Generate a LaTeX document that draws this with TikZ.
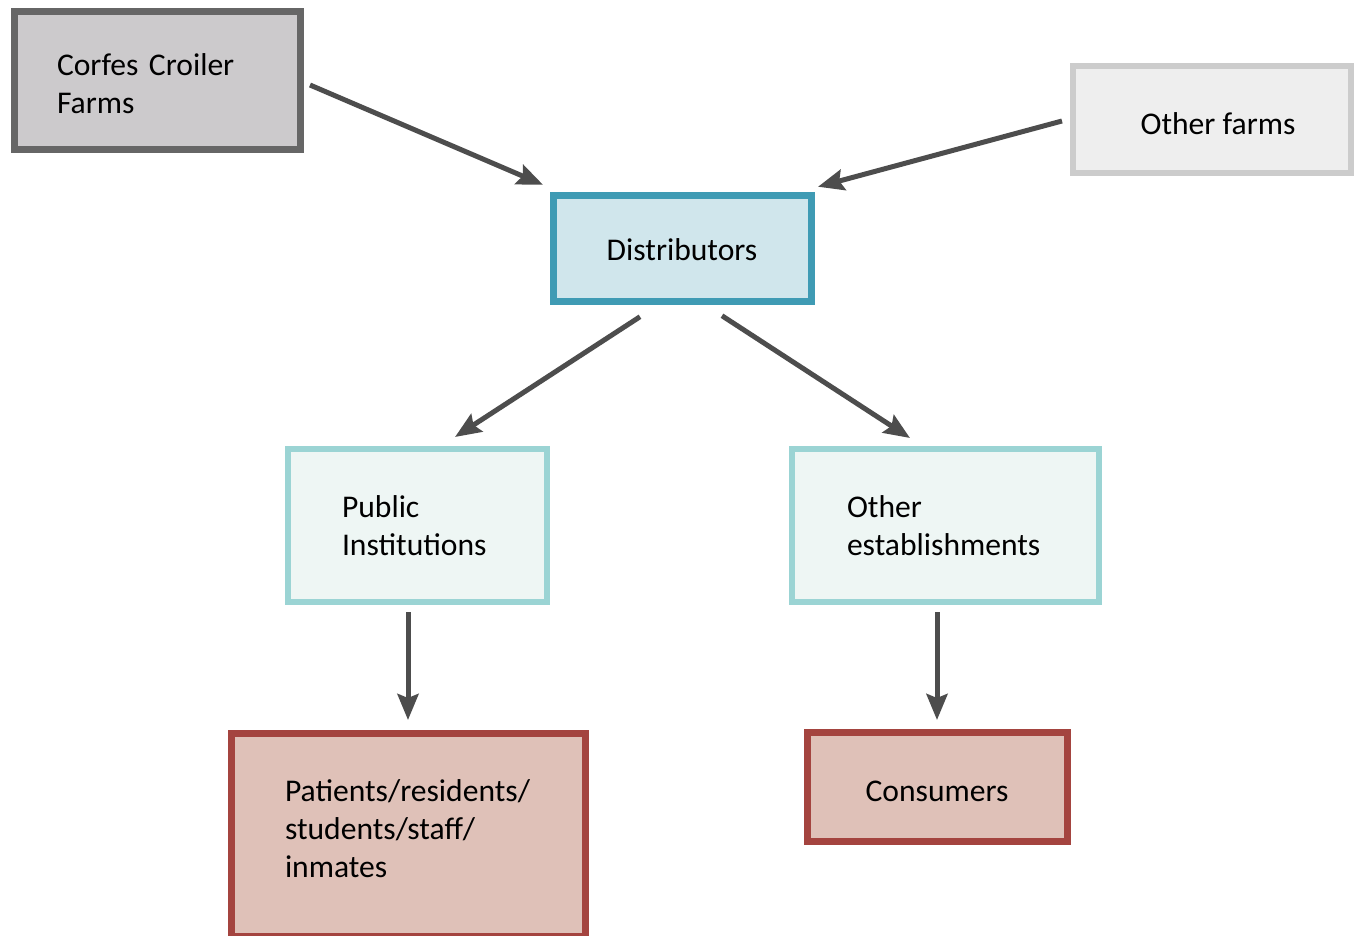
\documentclass[tikz,border=0pt]{standalone}
\usepackage{fontspec}
\setmainfont{Carlito}
\usetikzlibrary{arrows.meta,calc}
\definecolor{arrowgray}{HTML}{4D4D4D}
\definecolor{farmfill}{HTML}{CCCACC}
\definecolor{farmline}{HTML}{666666}
\definecolor{ofill}{HTML}{EEEEEE}
\definecolor{oline}{HTML}{CCCCCC}
\definecolor{dfill}{HTML}{D0E6EC}
\definecolor{dline}{HTML}{3F9BB4}
\definecolor{pfill}{HTML}{EEF6F4}
\definecolor{pline}{HTML}{9BD4D4}
\definecolor{cfill}{HTML}{DFC1B8}
\definecolor{cline}{HTML}{A4443F}
\tikzset{
  box/.style={draw, rectangle, outer sep=0pt, inner sep=0pt, line width=7pt,
    font=\fontsize{31.6}{38}\selectfont, text=black},
  flow/.style={draw=arrowgray, line width=5pt,
    -{Stealth[length=26pt,width=21pt,inset=4pt]}},
}
\begin{document}
\begin{tikzpicture}[x=1pt,y=-1pt]
\useasboundingbox (0,0) rectangle (1355,936);
\node[box, draw=farmline, fill=farmfill, minimum width=286pt, minimum height=138pt,
  text width=200pt, align=left] (corfes) at (157,81) {\rule{0pt}{28pt}Corfes Croiler\\Farms};
\node[box, draw=oline, fill=ofill, line width=6pt, minimum width=278pt, minimum height=107pt,
  text height=30pt, text depth=0pt]
  (otherfarms) at (1212,119.5) {\hspace*{12pt}Other farms};
\node[box, draw=dline, fill=dfill, minimum width=258pt, minimum height=106.5pt,
  text height=24pt, text depth=0pt]
  (dist) at (682,248.5) {Distributors};
\node[box, draw=pline, fill=pfill, line width=6pt, minimum width=259pt, minimum height=153pt,
  text width=151pt, align=left] (public) at (417.5,525.5) {Public\\Institutions};
\node[box, draw=pline, fill=pfill, line width=6pt, minimum width=307pt, minimum height=153pt,
  text width=197pt, align=left] (otherest) at (945.5,525.5) {Other\\establishments};
\node[box, draw=cline, fill=cfill, minimum width=353.5pt, minimum height=203pt,
  text width=246.5pt, align=left] (patients) at (408.25,834.5)
  {Patients/residents/\\students/staff/\\inmates\rule[-12pt]{0pt}{1pt}};
\node[box, draw=cline, fill=cfill, minimum width=260pt, minimum height=109pt,
  text height=29pt, text depth=0pt]
  (consumers) at (937,786.5) {Consumers};
\draw[flow] ($(corfes.east)+(10,4)$) -- ($(dist.north west)+(-10,-10.5)$);
\draw[flow] ($(otherfarms.west)+(-11,1.5)$) -- ($(dist.north east)+(7,-8.5)$);
\draw[flow] ($(dist.south)+(-42,15)$) -- ($(public.north)+(37.5,-12)$);
\draw[flow] ($(dist.south)+(40,14)$) -- ($(otherest.north)+(-35.5,-11)$);
\draw[flow] ($(public.south)+(-9.5,10)$) -- ($(patients.north)+(-0.25,-13)$);
\draw[flow] ($(otherest.south)+(-8.5,10)$) -- ($(consumers.north)+(0,-12)$);
\end{tikzpicture}
\end{document}
